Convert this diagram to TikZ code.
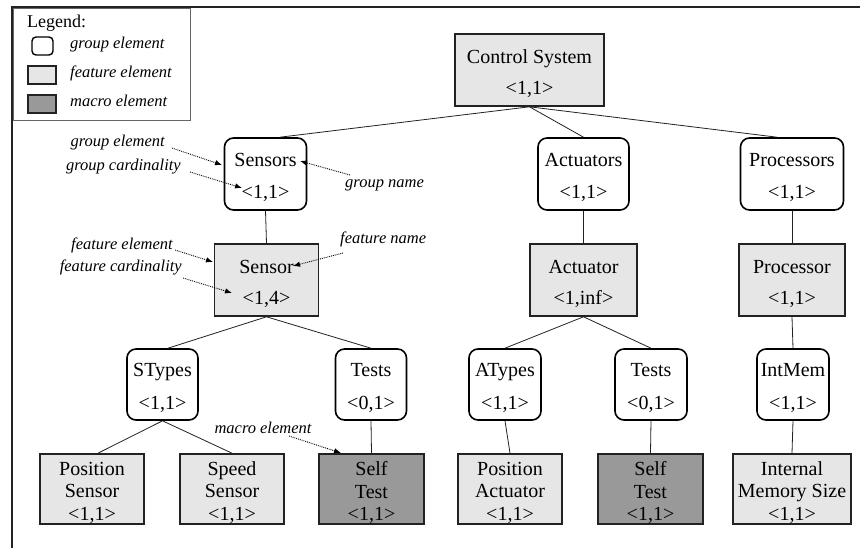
\documentclass[tikz,border=0pt]{standalone}
\usepackage{fontspec}
\setmainfont{Liberation Serif}
\usetikzlibrary{arrows.meta}

\definecolor{featgray}{HTML}{E6E6E6}
\definecolor{macrogray}{HTML}{999999}
\definecolor{edgegray}{HTML}{222222}

\tikzset{
  box/.style={minimum height=72pt, inner sep=0pt, line width=1.6pt},
  boxtext/.style={align=center, inner sep=0pt, yshift=-3.5pt},
  grouptext/.style={boxtext, font=\fontsize{20}{32.5}\selectfont},
  feattext/.style={boxtext, font=\fontsize{20}{31}\selectfont},
  leaftext/.style={boxtext, font=\fontsize{20}{22.5}\selectfont},
  groupbox/.style={box, draw=black, fill=white, rounded corners=9pt},
  featbox/.style={box, draw=edgegray, fill=featgray},
  leafbox/.style={box, draw=edgegray, fill=featgray, minimum height=70pt},
  macrobox/.style={leafbox, fill=macrogray},
  link/.style={draw=edgegray, line width=0.8pt},
  note/.style={inner sep=0pt, font=\fontsize{16.5}{18}\selectfont\itshape},
  notearrow/.style={densely dotted, line width=0.9pt,
                    -{Latex[length=7pt,width=5.5pt]}},
}

\begin{document}
\begin{tikzpicture}[x=1pt,y=-1pt]
  \useasboundingbox (0,0) rectangle (860,548);
  \fill[white] (0,0) rectangle (860,548);

  % outer frame
  \draw[line width=2.5pt, edgegray] (12,7) -- (860,7);
  \draw[line width=2pt, edgegray] (12,6) -- (12,548);

  % legend
  \node[draw=black!60, line width=0.8pt, minimum width=177pt, minimum height=112pt,
        inner sep=0pt] (legend) at (101.5,64) {};
  \node[anchor=west, inner sep=0pt, font=\fontsize{18}{20}\selectfont] (legtitle) at (27,23) {Legend:};
  \node[draw=black, line width=1.4pt, rounded corners=4pt, fill=white,
        minimum width=21pt, minimum height=18pt, inner sep=0pt] (lgroup) at (42.5,46) {};
  \node[draw=edgegray, line width=1.2pt, fill=featgray,
        minimum width=28pt, minimum height=18pt, inner sep=0pt] (lfeat) at (42,75) {};
  \node[draw=edgegray, line width=1.2pt, fill=macrogray,
        minimum width=28pt, minimum height=18pt, inner sep=0pt] (lmacro) at (42,104) {};
  \node[note, anchor=west] (lgrouptxt) at (70,45) {group element};
  \node[note, anchor=west] (lfeattxt) at (70,73) {feature element};
  \node[note, anchor=west] (lmacrotxt) at (70,101) {macro element};

  % level 0
  \node[featbox, minimum width=149pt, label={[feattext]center:Control System\\<1,1>}] (cs) at (529.5,70) {};

  % level 1: groups
  \node[groupbox, minimum width=82pt,  label={[grouptext]center:Sensors\\<1,1>}]    (sensors)    at (265.5,174) {};
  \node[groupbox, minimum width=91pt,  label={[grouptext]center:Actuators\\<1,1>}]  (actuators)  at (583.5,174) {};
  \node[groupbox, minimum width=103pt, label={[grouptext]center:Processors\\<1,1>}] (processors) at (792,174)   {};

  % level 2: features
  \node[featbox, minimum width=104pt, label={[feattext]center:Sensor\\<1,4>}]     (sensor)    at (266.5,280) {};
  \node[featbox, minimum width=107pt, label={[feattext]center:Actuator\\<1,inf>}] (actuator)  at (583.5,280) {};
  \node[featbox, minimum width=106pt, label={[feattext]center:Processor\\<1,1>}]  (processor) at (792,280)   {};

  % level 3: groups
  \node[groupbox, minimum width=71pt, minimum height=71pt, label={[grouptext]center:STypes\\<1,1>}] (stypes) at (162.5,384.5) {};
  \node[groupbox, minimum width=71pt, minimum height=71pt, label={[grouptext]center:Tests\\<0,1>}]  (stests) at (371,384.5)   {};
  \node[groupbox, minimum width=72pt, minimum height=71pt, label={[grouptext]center:ATypes\\<1,1>}] (atypes) at (505,384.5)   {};
  \node[groupbox, minimum width=72pt, minimum height=71pt, label={[grouptext]center:Tests\\<0,1>}]  (atests) at (651,384.5)   {};
  \node[groupbox, minimum width=72pt, minimum height=71pt, label={[grouptext]center:IntMem\\<1,1>}] (intmem) at (793,384.5)   {};

  % level 4: leaves
  \node[leafbox,  minimum width=104pt, label={[leaftext]center:Position\\Sensor\\<1,1>}]    (possens)   at (92,489)    {};
  \node[leafbox,  minimum width=104pt, label={[leaftext]center:Speed\\Sensor\\<1,1>}]       (speedsens) at (232,489)   {};
  \node[macrobox, minimum width=105pt, label={[leaftext]center:Self\\Test\\<1,1>}]          (sselftest) at (371.5,489) {};
  \node[leafbox,  minimum width=104pt, label={[leaftext]center:Position\\Actuator\\<1,1>}]  (posact)    at (510,489)   {};
  \node[macrobox, minimum width=105pt, label={[leaftext]center:Self\\Test\\<1,1>}]          (aselftest) at (650.5,489) {};
  \node[leafbox,  minimum width=118pt, label={[leaftext]center:Internal\\Memory Size\\<1,1>}] (memsize) at (792,489)   {};

  % tree links
  \draw[link] (cs.south) -- ([xshift=14.5pt]sensors.north);
  \draw[link] (cs.south) -- (actuators.north);
  \draw[link] (cs.south) -- ([xshift=-15pt]processors.north);
  \draw[link] (sensors.south) -- (sensor.north);
  \draw[link] (actuators.south) -- (actuator.north);
  \draw[link] (processors.south) -- (processor.north);
  \draw[link] (sensor.south) -- ([xshift=5.5pt]stypes.north);
  \draw[link] (sensor.south) -- (stests.north);
  \draw[link] (actuator.south) -- (atypes.north);
  \draw[link] (actuator.south) -- (atests.north);
  \draw[link] (processor.south) -- (intmem.north);
  \draw[link] (stypes.south) -- ([xshift=6pt]possens.north);
  \draw[link] (stypes.south) -- (speedsens.north);
  \draw[link] (stests.south) -- (sselftest.north);
  \draw[link] (atypes.south) -- (posact.north);
  \draw[link] (atests.south) -- (aselftest.north);
  \draw[link] (intmem.south) -- (memsize.north);

  % annotations
  \node[note, anchor=east] (nge) at (165,143) {group element};
  \node[note, anchor=east] (ngc) at (181,167) {group cardinality};
  \node[note, anchor=west] (ngn) at (345,185) {group name};
  \node[note, anchor=west] (nfn) at (340,239) {feature name};
  \node[note, anchor=east] (nfe) at (173,245) {feature element};
  \node[note, anchor=east] (nfc) at (182,267) {feature cardinality};
  \node[note] (nme) at (263,428) {macro element};

  \coordinate (ge0) at (172,148);  \coordinate (ge1) at (222,165);
  \coordinate (gc0) at (190,172);  \coordinate (gc1) at (242,188);
  \coordinate (gn0) at (350,175);  \coordinate (gn1) at (300,161);
  \coordinate (fn0) at (343,253);  \coordinate (fn1) at (293,266);
  \coordinate (fe0) at (175,250);  \coordinate (fe1) at (213,262);
  \coordinate (fc0) at (183,278);  \coordinate (fc1) at (232,293);
  \coordinate (me0) at (289,436);  \coordinate (me1) at (341,453);

  \draw[notearrow] (ge0) -- (ge1);
  \draw[notearrow] (gc0) -- (gc1);
  \draw[notearrow] (gn0) -- (gn1);
  \draw[notearrow] (fn0) -- (fn1);
  \draw[notearrow] (fe0) -- (fe1);
  \draw[notearrow] (fc0) -- (fc1);
  \draw[notearrow] (me0) -- (me1);
\end{tikzpicture}
\end{document}
